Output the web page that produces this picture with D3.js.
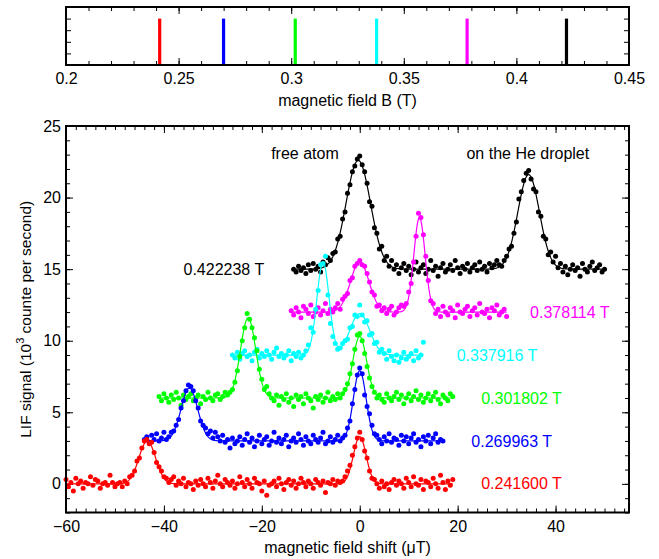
<!DOCTYPE html>
<html><head><meta charset="utf-8">
<script src="https://cdn.jsdelivr.net/npm/d3@7"></script>
<style>
html,body{margin:0;padding:0;background:#fff;}
text{font-family:"Liberation Sans",Arial,Helvetica,sans-serif;}
</style></head>
<body><svg id="chart" width="659" height="559"></svg>
<script>
// ---------- data ----------
const fieldT = [0.241600, 0.269963, 0.301802, 0.337916, 0.378114, 0.422238];
const fieldLabels = ["0.241600 T", "0.269963 T", "0.301802 T", "0.337916 T", "0.378114 T", "0.422238 T"];
const topTicks = [0.2, 0.25, 0.3, 0.35, 0.4, 0.45];
const shiftTicks = [-60, -40, -20, 0, 20, 40];
const signalTicks = [0, 5, 10, 15, 20, 25];

// scan start (µT) of each series, step 0.5 µT
const scanStart = [-60, -44, -41, -26, -14, -13.5];
const scanStep = 0.5;

const redY = [0.3,-0.2,0.1,-0.5,0.4,0.0,0.2,-0.3,0.1,0.0,0.5,-0.1,0.3,0.2,-0.3,0.0,0.1,-0.1,0.6,0.1,-0.2,0.0,0.1,-0.2,0.2,0.0,
 0.5,0.6,0.9,1.6,1.8,2.5,3.0,3.1,2.8,2.9,2.2,1.5,1.2,0.9,0.5,0.4,0.1,
 0.3,0.5,-0.1,0.2,0.0,0.4,-0.2,0.1,0.0,-0.4,0.2,-0.1,0.3,0.0,-0.2,0.4,0.1,-0.3,0.2,0.6,
 0.0,-0.2,0.3,0.1,-0.1,0.2,-0.3,0.0,0.5,0.1,-0.2,0.3,0.0,-0.3,0.4,0.1,0.0,-0.5,0.2,-0.8,
 -0.1,0.0,0.2,-0.2,0.4,0.0,-0.4,0.1,0.3,-0.1,0.2,-0.3,0.0,0.4,0.1,-0.2,0.2,0.0,-0.3,0.3,
 0.1,-0.1,0.2,-0.6,0.1,0.0,0.3,-0.1,0.2,0.1,0.2,
 0.5,0.9,1.3,2.0,2.6,3.2,3.6,3.1,2.3,1.8,0.9,0.4,0.3,
 0.0,-0.3,0.2,-0.2,0.0,-0.4,0.1,0.3,-0.1,0.2,0.0,-0.3,0.4,0.1,-0.2,0.5,0.0,-0.1,0.3,-0.4,
 0.2,0.1,-0.2,0.4,0.0,-0.3,0.6,0.1,-0.4,0.2,-0.1,0.3];
const blueY = [3.1,3.3,2.9,3.4,3.1,3.5,3.0,3.2,3.6,3.1,3.3,
 3.6,3.7,4.1,4.5,5.3,5.8,6.5,6.9,6.8,6.5,5.8,5.3,4.4,4.1,3.9,3.5,
 3.7,3.2,3.6,3.3,3.0,3.4,2.9,3.1,2.5,3.2,2.8,3.0,3.3,2.7,3.1,3.5,2.9,3.2,2.6,3.0,
 3.4,2.8,3.1,3.3,2.7,3.0,3.6,2.9,3.2,2.8,3.1,3.4,2.6,3.0,3.2,2.9,3.5,3.1,2.7,3.3,
 3.0,2.8,3.4,3.1,2.9,3.2,3.6,2.8,3.0,3.3,2.9,3.1,3.4,3.0,
 3.2,3.4,3.9,4.4,5.6,6.6,7.6,8.1,7.7,6.2,5.4,4.9,4.1,3.5,3.4,3.1,
 2.8,3.3,3.0,3.5,2.9,3.2,3.1,2.7,3.4,3.0,3.3,2.8,3.2,3.5,2.9,3.1,2.6,3.3,3.0,3.4,
 2.8,3.2,3.5,2.9,3.1,3.0];
const greenY = [6.1,5.8,6.3,6.0,5.7,6.2,5.9,6.4,6.0,5.5,6.2,5.9,6.1,6.3,5.8,6.0,6.2,5.6,6.1,5.9,
 6.4,6.0,5.8,6.2,6.3,5.9,6.1,6.4,
 6.2,6.4,6.6,7.1,7.9,8.9,10.0,10.9,11.9,11.5,10.9,10.2,9.3,8.0,7.3,6.6,6.8,
 6.3,6.0,5.8,6.2,5.5,6.1,5.9,6.3,5.7,6.0,5.4,6.2,5.9,6.1,5.6,6.3,6.0,5.8,5.3,6.1,
 5.9,6.2,5.7,6.0,6.4,5.8,6.1,5.9,6.3,6.0,
 6.3,6.6,7.0,7.7,8.4,9.4,10.4,10.5,10.0,9.1,8.2,7.4,6.8,6.4,6.0,
 6.2,5.9,5.7,6.3,6.0,5.8,6.1,6.4,5.9,6.2,5.6,6.0,6.3,5.8,6.1,6.5,5.9,6.2,5.7,6.0,
 6.3,5.8,6.1,6.4,5.9,5.6,6.2,6.0,5.8,6.3,6.1];
const cyanY = [9.0,8.8,9.2,8.7,9.1,9.3,8.9,9.0,8.6,9.2,9.4,8.8,9.1,8.9,9.3,9.0,8.7,9.2,9.5,8.9,
 9.1,8.8,9.0,9.3,8.6,9.1,8.9,9.2,8.8,9.0,9.3,
 9.7,10.9,10.6,12.2,13.5,15.3,15.4,15.9,13.2,11.2,10.3,9.8,9.4,9.5,
 9.8,10.0,10.1,10.9,11.0,11.8,11.7,12.5,11.8,11.3,11.4,10.4,10.5,9.8,9.9,9.2,
 9.4,9.1,8.7,9.3,8.9,8.6,9.0,8.5,8.8,9.2,8.7,8.9,9.1,8.6,9.3,8.8,9.0,9.9];
const magentaY = [12.1,11.8,12.3,12.0,11.6,12.4,12.2,11.9,12.5,11.7,12.0,12.3,11.8,12.1,12.6,11.9,12.2,12.0,
 12.3,12.6,12.2,12.9,13.1,13.3,14.2,14.4,15.2,15.4,15.6,15.3,15.2,14.7,14.1,13.4,13.2,12.4,12.5,12.1,12.3,
 11.9,12.2,12.4,11.8,12.0,12.3,12.5,12.4,
 12.6,13.4,14.0,15.5,17.3,18.9,18.6,17.4,15.9,14.2,12.8,12.6,
 11.9,12.2,11.7,12.4,12.0,11.8,12.3,12.1,11.6,12.5,12.0,11.9,12.2,12.4,11.7,12.1,12.3,11.8,12.6,12.0,
 11.9,12.2,11.6,12.3,12.1,12.5,11.8,12.0,12.2,11.7];
const blackY = [15.0,14.8,15.2,14.9,15.1,14.7,15.3,14.9,15.4,15.0,15.2,14.8,15.5,
 15.3,15.8,15.6,16.1,16.2,17.1,17.3,18.5,19.0,20.3,20.9,21.8,22.2,22.7,22.9,22.3,21.8,21.0,19.7,19.4,
 17.9,17.5,16.4,16.6,15.6,15.9,15.2,15.6,15.0,
 15.3,14.7,15.1,15.4,14.9,15.2,14.6,15.0,15.5,14.8,15.1,15.3,14.7,15.0,15.6,14.9,15.2,14.5,15.1,15.4,
 14.8,15.0,15.3,14.9,15.6,15.1,14.7,15.2,15.0,15.4,14.8,15.1,15.3,14.9,15.5,15.0,15.2,14.8,15.4,15.1,
 15.3,15.6,
 15.3,15.2,15.6,15.9,16.4,16.6,17.5,18.3,19.9,20.4,21.2,21.7,21.9,21.3,20.6,20.4,19.0,18.7,17.3,17.1,
 16.0,16.2,15.5,15.9,15.1,15.4,
 14.8,15.2,14.6,15.0,15.3,14.9,15.1,14.5,15.4,15.0,14.8,15.2,15.5,14.9,15.1,15.3,14.8,15.0];

const signalY = [redY, blueY, greenY, cyanY, magentaY, blackY];

// Gaussian fit results: baseline and [centre (µT), amplitude, sigma]
const fitBaseline = [0, 3, 6, 9, 12, 15];
const fitPeaks = [
  [[-43.4, 3.0, 1.7], [0, 3.3, 1.3]],
  [[-34.8, 3.7, 1.7], [0, 4.9, 1.3]],
  [[-22.8, 5.6, 1.55], [0, 4.3, 1.4]],
  [[-7.5, 6.5, 1.25], [0, 2.9, 2.0]],
  [[0, 3.5, 1.9], [12.2, 6.6, 1.15]],
  [[-0.3, 7.6, 2.5], [34.5, 6.6, 2.2]]
];

// label anchor in data units (µT, signal)
const labelX = [24.8, 22.8, 24.8, 19.8, 34.8, -36.0];
const noteText = ["free atom", "on the He droplet"];
const noteX = [-18.1, 21.8];
const noteY = 23.1;

// ---------- styles ----------
const colors = ["#ff0000", "#0000ff", "#00ff00", "#00ffff", "#ff00ff", "#000000"];
const FS = 16;

// ---------- drawing ----------
const svg = d3.select("#chart");
const L = 66, R = 629;

// top panel
const tx = d3.scaleLinear().domain([0.2, 0.45]).range([L, R]);
const ty = d3.scaleLinear().domain([0, 1]).range([65, 7]);
const topG = svg.append("g");

function ticksGroup(g, axisFn, scale, vals, size, pad, fmt) {
  const a = axisFn(scale).tickValues(vals).tickSize(-size).tickPadding(pad);
  if (fmt === null) a.tickFormat(""); else if (fmt) a.tickFormat(fmt);
  g.call(a);
  g.select(".domain").remove();
  g.selectAll("line").attr("stroke", "#000").attr("stroke-width", 1);
  g.selectAll("text").attr("font-size", FS).attr("fill", "#000")
    .attr("font-family", '"Liberation Sans",Arial,sans-serif');
  return g;
}
const topMinor = d3.range(0.2, 0.4501, 0.01).map(v => +v.toFixed(3));
ticksGroup(topG.append("g").attr("transform", `translate(0,${ty(0)})`), d3.axisBottom, tx, topMinor, 4, 0, null);
ticksGroup(topG.append("g").attr("transform", `translate(0,${ty(1)})`), d3.axisTop, tx, topMinor, 4, 0, null);
ticksGroup(topG.append("g").attr("transform", `translate(0,${ty(0)})`), d3.axisBottom, tx, topTicks, 7, 8, d3.format("~g"));
ticksGroup(topG.append("g").attr("transform", `translate(0,${ty(1)})`), d3.axisTop, tx, topTicks, 7, 0, null);
const topY = [0.2, 0.4, 0.6, 0.8];
ticksGroup(topG.append("g").attr("transform", `translate(${L},0)`), d3.axisLeft, ty, topY, 5, 0, null);
ticksGroup(topG.append("g").attr("transform", `translate(${R},0)`), d3.axisRight, ty, topY, 5, 0, null);

topG.selectAll("line.field").data(fieldT).join("line")
  .attr("class", "field")
  .attr("x1", d => tx(d)).attr("x2", d => tx(d))
  .attr("y1", ty(0)).attr("y2", ty(0.8))
  .attr("stroke", (d, i) => colors[i]).attr("stroke-width", 3.2);

topG.append("rect").attr("x", L).attr("y", ty(1)).attr("width", R - L).attr("height", ty(0) - ty(1))
  .attr("fill", "none").attr("stroke", "#000").attr("stroke-width", 2);
topG.append("text").attr("x", (L + R) / 2).attr("y", 106).attr("text-anchor", "middle")
  .attr("font-size", 16).text("magnetic field B (T)");

// bottom panel
const x = d3.scaleLinear().domain([-60, 55]).range([L, R]);
const y = d3.scaleLinear().domain([-2, 25]).range([512.5, 126]);
const bot = svg.append("g");
const xMinor = d3.range(-60, 55.01, 2);
const yMinor = d3.range(-2, 25.01, 1);
ticksGroup(bot.append("g").attr("transform", `translate(0,${y(-2)})`), d3.axisBottom, x, xMinor, 4, 0, null);
ticksGroup(bot.append("g").attr("transform", `translate(0,${y(25)})`), d3.axisTop, x, xMinor, 4, 0, null);
ticksGroup(bot.append("g").attr("transform", `translate(0,${y(-2)})`), d3.axisBottom, x, shiftTicks, 7, 8, d3.format("d"));
ticksGroup(bot.append("g").attr("transform", `translate(0,${y(25)})`), d3.axisTop, x, shiftTicks, 7, 0, null);
ticksGroup(bot.append("g").attr("transform", `translate(${L},0)`), d3.axisLeft, y, yMinor, 4, 0, null);
ticksGroup(bot.append("g").attr("transform", `translate(${R},0)`), d3.axisRight, y, yMinor, 4, 0, null);
ticksGroup(bot.append("g").attr("transform", `translate(${L},0)`), d3.axisLeft, y, signalTicks, 7, 5, d3.format("d"));
ticksGroup(bot.append("g").attr("transform", `translate(${R},0)`), d3.axisRight, y, signalTicks, 7, 0, null);

const plot = bot.append("g");
const order = [5, 4, 3, 2, 1, 0];
order.forEach(i => {
  const pts = signalY[i].map((v, k) => [scanStart[i] + k * scanStep, v]);
  const x0 = scanStart[i], x1 = scanStart[i] + (signalY[i].length - 1) * scanStep;
  const fitPts = d3.range(x0, x1 + 0.001, 0.1).map(xv => {
    let v = fitBaseline[i];
    fitPeaks[i].forEach(p => { v += p[1] * Math.exp(-((xv - p[0]) ** 2) / (2 * p[2] * p[2])); });
    return [xv, v];
  });
  const g = plot.append("g");
  g.append("path").datum(fitPts)
    .attr("d", d3.line().x(d => x(d[0])).y(d => y(d[1])))
    .attr("fill", "none").attr("stroke", colors[i]).attr("stroke-width", 1.2);
  g.selectAll("circle").data(pts).join("circle")
    .attr("cx", d => x(d[0])).attr("cy", d => y(d[1])).attr("r", 2.5)
    .attr("fill", colors[i]);
  svg.append("text").attr("x", x(labelX[i])).attr("y", y(fitBaseline[i]))
    .attr("dy", "0.35em").attr("font-size", FS).attr("fill", colors[i]).text(fieldLabels[i]);
});
noteText.forEach((t, k) => {
  svg.append("text").attr("x", x(noteX[k])).attr("y", y(noteY)).attr("dy", "0.35em")
    .attr("font-size", FS).attr("fill", "#000").text(t);
});

bot.append("rect").attr("x", L).attr("y", y(25)).attr("width", R - L).attr("height", y(-2) - y(25))
  .attr("fill", "none").attr("stroke", "#000").attr("stroke-width", 2);

bot.append("text").attr("x", (L + R) / 2).attr("y", 553).attr("text-anchor", "middle")
  .attr("font-size", 16).text("magnetic field shift (\u03bcT)");
const yt = bot.append("text").attr("transform", `translate(31,${(y(-2) + y(25)) / 2}) rotate(-90)`)
  .attr("text-anchor", "middle").attr("font-size", 15.5);
yt.append("tspan").text("LIF signal (10");
yt.append("tspan").attr("font-size", 11).attr("dy", "-0.6em").text("3");
yt.append("tspan").attr("dy", "0.42em").text(" counte per second)");
</script></body></html>
